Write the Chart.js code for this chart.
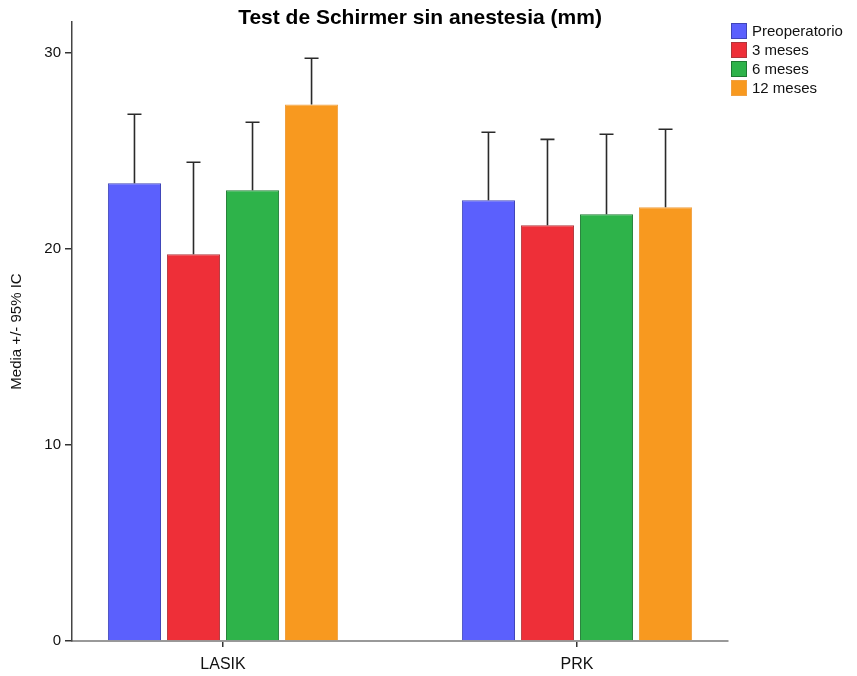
<!DOCTYPE html>
<html>
<head>
<meta charset="utf-8">
<script src="https://cdn.jsdelivr.net/npm/chart.js@4"></script>
<style>
  html, body { margin: 0; padding: 0; background: #fff; }
  #wrap { width: 857px; height: 676px; }
</style>
</head>
<body>
<div id="wrap"><canvas id="myChart" width="857" height="676"></canvas></div>
<script>
const categories = ["LASIK", "PRK"];
const seriesNames = ["Preoperatorio", "3 meses", "6 meses", "12 meses"];
const yTicks = [0, 10, 20, 30];

// mean values
const preop = [23.33, 22.46];
const m3 = [19.71, 21.19];
const m6 = [22.97, 21.75];
const m12 = [27.35, 22.11];

// upper limit of the 95% CI
const preopUpper = [26.85, 25.93];
const m3Upper = [24.40, 25.57];
const m6Upper = [26.44, 25.83];
const m12Upper = [29.70, 26.08];

const fills = ["#5b60fd", "#ee2f38", "#2eb34a", "#f8991f"];
const edges = ["#4045b8", "#b0353b", "#1f7a33", "#f0a040"];

const means = [preop, m3, m6, m12];
const uppers = [preopUpper, m3Upper, m6Upper, m12Upper];

const font = "'Liberation Sans', Arial, sans-serif";

const errorBars = {
    id: "errorBars",
    afterDatasetsDraw: (chart) => {
        const { ctx } = chart;
        const y = chart.scales.y;
        ctx.save();
        ctx.strokeStyle = "#2a2a2a";
        ctx.lineWidth = 1.6;
        chart.data.datasets.forEach((ds, i) => {
            const meta = chart.getDatasetMeta(i);
            meta.data.forEach((bar, j) => {
                const top = y.getPixelForValue(ds.upper[j]);
                ctx.beginPath();
                ctx.moveTo(bar.x, bar.y);
                ctx.lineTo(bar.x, top);
                ctx.moveTo(bar.x - 7, top);
                ctx.lineTo(bar.x + 7, top);
                ctx.stroke();
            });
        });
        ctx.restore();
    },
};

const titleAndLegend = {
    id: "titleAndLegend",
    afterDraw: (chart) => {
        const { ctx, chartArea } = chart;
        ctx.save();
        ctx.fillStyle = "#000";
        ctx.font = "bold 21px " + font;
        ctx.textAlign = "center";
        ctx.textBaseline = "middle";
        ctx.fillText("Test de Schirmer sin anestesia (mm)", (chartArea.left + chartArea.right) / 2 + 20, 18);

        ctx.font = "15px " + font;
        ctx.textAlign = "left";
        chart.data.datasets.forEach((ds, i) => {
            const bx = chartArea.right + 3;
            const by = chartArea.top + 1 + i * 19;
            ctx.fillStyle = ds.backgroundColor;
            ctx.fillRect(bx, by, 16, 16);
            ctx.strokeStyle = ds.borderColor;
            ctx.lineWidth = 1;
            ctx.strokeRect(bx + 0.5, by + 0.5, 15, 15);
            ctx.fillStyle = "#111";
            ctx.fillText(ds.label, bx + 21, by + 9);
        });
        ctx.restore();
    },
};

new Chart(document.querySelector("#myChart"), {
    type: "bar",
    data: {
        datasets: seriesNames.map((name, i) => ({
            label: name,
            data: categories.map((c, j) => ({ x: j + 1, y: means[i][j] })),
            upper: uppers[i],
            backgroundColor: fills[i],
            borderColor: edges[i],
            borderWidth: 1,
            barPercentage: 0.9,
            categoryPercentage: 0.667,
        })),
    },
    options: {
        responsive: false,
        animation: false,
        layout: { padding: { top: 22, right: 129, left: 0, bottom: 0 } },
        plugins: {
            legend: { display: false },
            title: { display: false },
            tooltip: { enabled: false },
        },
        scales: {
            x: {
                type: "linear",
                min: 0.5734,
                max: 2.4266,
                offset: false,
                afterBuildTicks: (scale) => {
                    scale.ticks = categories.map((c, i) => ({ value: i + 1 }));
                },
                afterFit: (scale) => {
                    scale.height = 35;
                },
                grid: {
                    offset: false,
                    drawOnChartArea: false,
                    drawTicks: true,
                    tickLength: 6,
                    color: "#333",
                    lineWidth: 1.5,
                },
                border: { color: "#999", width: 2 },
                ticks: {
                    padding: 8,
                    color: "#111",
                    maxRotation: 0,
                    font: { family: font, size: 16 },
                    callback: (v) => categories[v - 1],
                },
            },
            y: {
                min: 0,
                max: 31.55,
                afterBuildTicks: (scale) => {
                    scale.ticks = yTicks.map((v) => ({ value: v }));
                },
                afterFit: (scale) => {
                    scale.width = 72;
                },
                grid: {
                    drawOnChartArea: false,
                    drawTicks: true,
                    tickLength: 7,
                    color: "#333",
                    lineWidth: 1.5,
                },
                border: { color: "#444", width: 1.5 },
                ticks: {
                    padding: 4,
                    color: "#111",
                    font: { family: font, size: 15 },
                },
                title: {
                    display: true,
                    text: "Media +/- 95% IC",
                    color: "#111",
                    padding: { top: 8, bottom: 0 },
                    font: { family: font, size: 15 },
                },
            },
        },
    },
    plugins: [errorBars, titleAndLegend],
});
</script>
</body>
</html>
